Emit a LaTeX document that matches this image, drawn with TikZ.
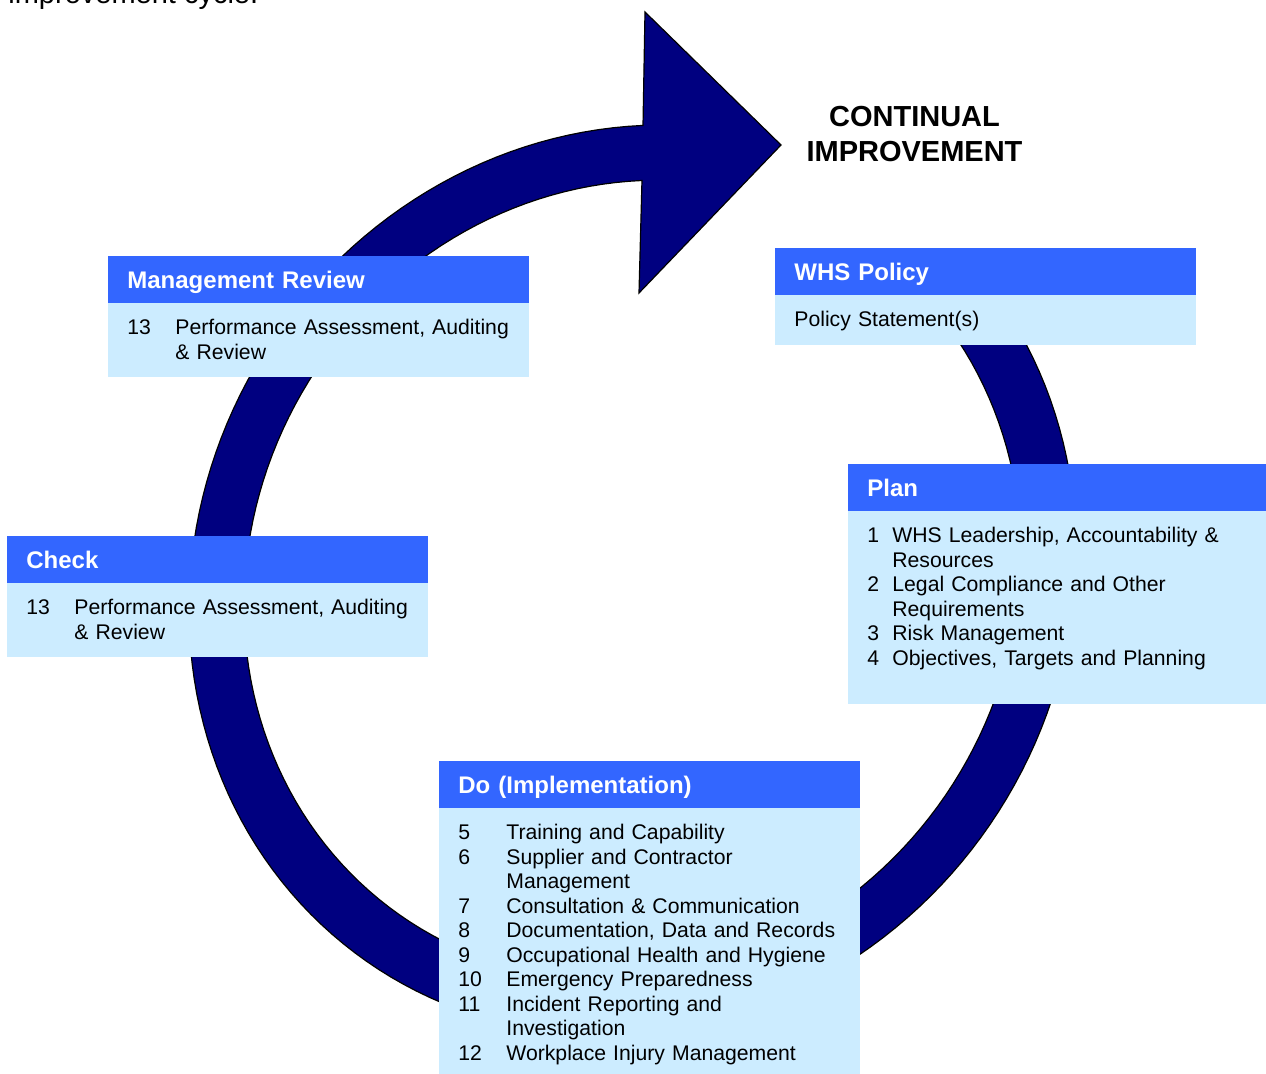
\documentclass[tikz,border=0pt]{standalone}
\usepackage{fontspec}
\setmainfont{Liberation Sans}
\usepackage{xcolor}
\usepackage{tikz}
\usetikzlibrary{positioning}
\definecolor{headBlue}{HTML}{3366FF}
\definecolor{bodyBlue}{HTML}{CCECFF}
\definecolor{ringNavy}{HTML}{000080}
\newcommand\bodyfont{\fontsize{10.6pt}{12.25pt}\selectfont}
\newcommand\headfont{\fontsize{12pt}{14pt}\selectfont\bfseries}

\begin{document}
\begin{tikzpicture}[x=0.5pt,y=-0.5pt,
    ring/.style={draw=black,line width=0.6pt,fill=ringNavy},
    head/.style={fill=headBlue,text=white,anchor=north west,inner xsep=9.5pt,
      inner ysep=0pt,text height=16pt,text depth=7.5pt,align=left,font=\headfont},
    body/.style={fill=bodyBlue,anchor=north west,inner xsep=9.5pt,inner ysep=0pt,
      text height=15.7pt,align=left,font=\bodyfont}]
    \useasboundingbox (0,0) rectangle (1266,1074);
    \node[anchor=base west,inner sep=0pt,font=\fontsize{14.5pt}{17pt}\selectfont]
      (cycle) at (8,4) {improvement cycle.};
    % the cycle band and its arrow head
    \draw[ring] plot[domain=-35:271.36,samples=160,variable=\t]
        ({632.5+443.5*cos(\t)},{580-30*cos(\t)+454*sin(\t)})
      -- (645,12) -- (781,145) -- (639,293)
      -- plot[domain=271.4:-35,samples=160,variable=\t]
        ({632.5+388.5*cos(\t)},{580-26*cos(\t)+399*sin(\t)})
      -- cycle;
    \node[anchor=base,align=center,inner sep=0pt,
      font=\fontsize{14.5pt}{17.5pt}\selectfont\bfseries] (ci) at (914.5,161.5)
      {CONTINUAL\\IMPROVEMENT};

    \node[head,text width=191.5pt] (whsh) at (775,248) {WHS Policy};
    \node[body,text width=191.5pt,text depth=9.2pt] (whsb)
      at ([yshift=0.4pt]whsh.south west) {Policy Statement(s)};

    \node[head,text width=190pt] (planh) at (848,464) {Plan};
    \node[body,text width=190pt,text depth=80.7pt] (planb)
      at ([yshift=0.4pt]planh.south west)
      {\begin{tabular}[t]{@{}p{12.5pt}@{}l@{}}
        1 & WHS Leadership, Accountability \&\\
          & Resources\\
        2 & Legal Compliance and Other\\
          & Requirements\\
        3 & Risk Management\\
        4 & Objectives, Targets and Planning
      \end{tabular}};

    \node[head,text width=191.5pt] (doh) at (439,761) {Do (Implementation)};
    \node[body,text width=191.5pt,text depth=117.2pt] (dob)
      at ([yshift=0.4pt]doh.south west)
      {\begin{tabular}[t]{@{}p{24pt}@{}l@{}}
        5 & Training and Capability\\
        6 & Supplier and Contractor\\
          & Management\\
        7 & Consultation \& Communication\\
        8 & Documentation, Data and Records\\
        9 & Occupational Health and Hygiene\\
        10 & Emergency Preparedness\\
        11 & Incident Reporting and\\
           & Investigation\\
        12 & Workplace Injury Management
      \end{tabular}};

    \node[head,text width=191.5pt] (checkh) at (7,536) {Check};
    \node[body,text width=191.5pt,text depth=21.2pt] (checkb)
      at ([yshift=0.4pt]checkh.south west)
      {\begin{tabular}[t]{@{}p{24pt}@{}l@{}}
        13 & Performance Assessment, Auditing\\
           & \& Review
      \end{tabular}};

    \node[head,text width=191.5pt] (mrh) at (108,256) {Management Review};
    \node[body,text width=191.5pt,text depth=21.2pt] (mrb)
      at ([yshift=0.4pt]mrh.south west)
      {\begin{tabular}[t]{@{}p{24pt}@{}l@{}}
        13 & Performance Assessment, Auditing\\
           & \& Review
      \end{tabular}};
  \end{tikzpicture}
\end{document}
